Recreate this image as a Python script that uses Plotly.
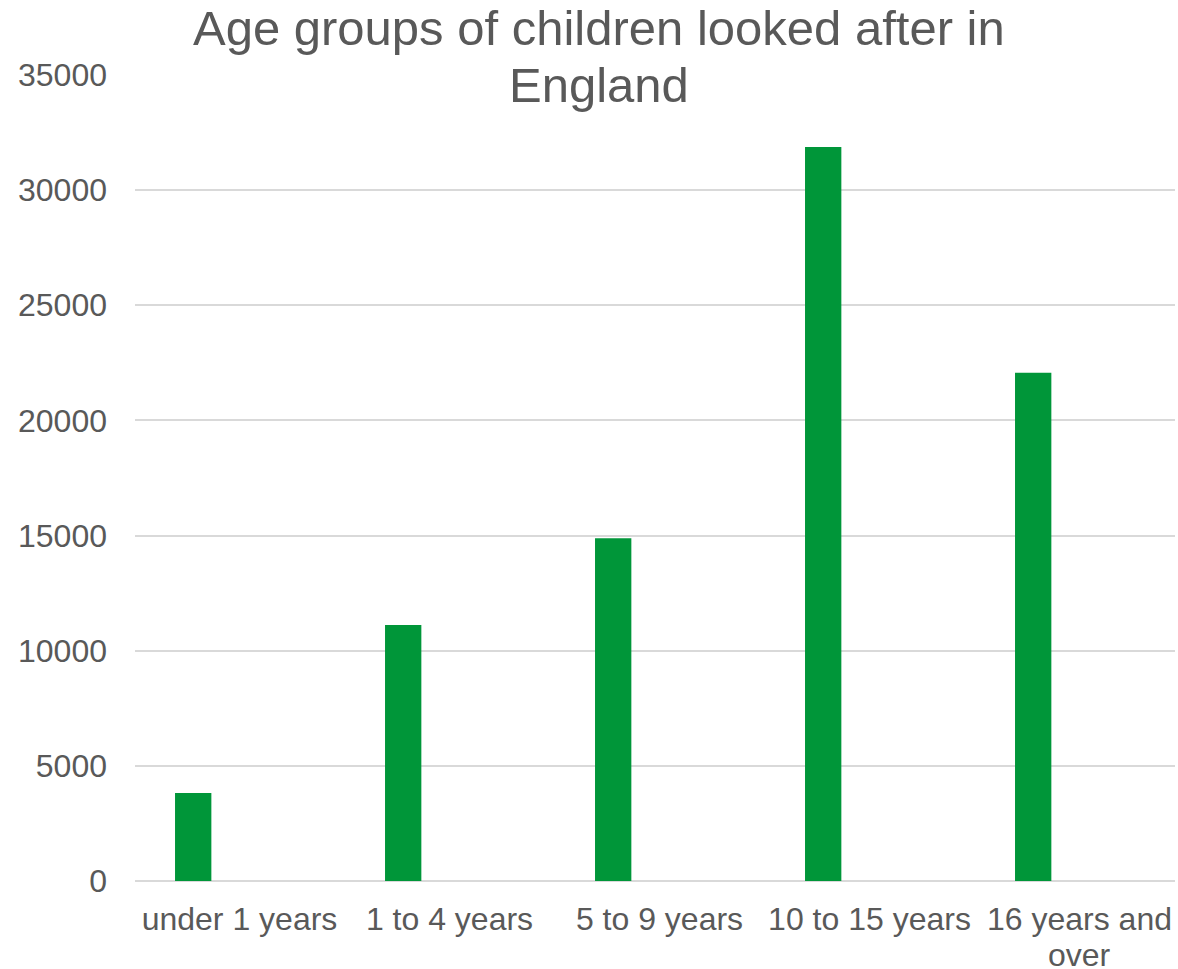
import plotly.graph_objects as go

categories = ["under 1 years", "1 to 4 years", "5 to 9 years", "10 to 15 years", "16 years and over"]
values = [3820, 11115, 14880, 31870, 22070]
x_tick_labels = ["under 1 years", "1 to 4 years", "5 to 9 years", "10 to 15 years", "16 years and"]
x_label_wrap = "over"  # second line of the last category label
y_ticks = [0, 5000, 10000, 15000, 20000, 25000, 30000, 35000]
title_lines = ["Age groups of children looked after in", "England"]

FONT = "Liberation Sans, Arial, sans-serif"
GREY = "#595959"

fig = go.Figure()
fig.add_trace(go.Bar(
    x=categories, y=values,
    marker=dict(color="#009639", line=dict(width=0)),
    width=0.173, offset=-0.307,
))

fig.update_layout(
    width=1178, height=969,
    margin=dict(l=135, r=3, t=75, b=88, autoexpand=False),
    paper_bgcolor="white", plot_bgcolor="white",
    showlegend=False,
    font=dict(family=FONT, color=GREY),
    xaxis=dict(
        type="category", showgrid=False, showline=False, zeroline=False,
        range=[-0.4976, 4.4548], automargin=False,
        tickvals=categories, ticktext=x_tick_labels,
        tickfont=dict(family=FONT, size=32, color=GREY),
        ticks="", ticklabelstandoff=16,
    ),
    yaxis=dict(
        range=[0, 35000], tickvals=y_ticks, ticktext=[str(v) for v in y_ticks],
        showgrid=True, gridcolor="#d9d9d9", gridwidth=1.5, automargin=False,
        zeroline=True, zerolinecolor="#d9d9d9", zerolinewidth=1.5,
        showline=False, ticks="",
        tickfont=dict(family=FONT, size=32, color=GREY),
        ticklabelstandoff=27,
    ),
    annotations=[
        dict(text=title_lines[0], x=0.4457, y=1.0583, xref="paper", yref="paper",
             xanchor="center", yanchor="middle", showarrow=False,
             font=dict(family=FONT, size=49, color=GREY)),
        dict(text=title_lines[1], x=0.4457, y=0.9876, xref="paper", yref="paper",
             xanchor="center", yanchor="middle", showarrow=False,
             font=dict(family=FONT, size=49, color=GREY)),
        dict(text=x_label_wrap, x=categories[4], y=-0.0918, xref="x", yref="paper",
             xanchor="center", yanchor="middle", showarrow=False,
             font=dict(family=FONT, size=32, color=GREY)),
    ],
)

fig.write_html("out.html")
